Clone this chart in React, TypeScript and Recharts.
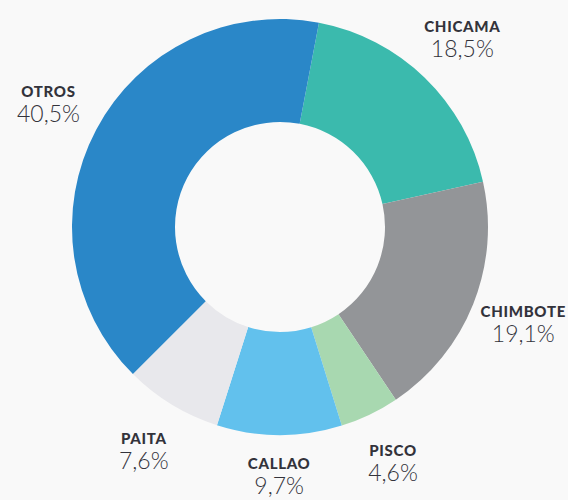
import React from 'react';
import { PieChart, Pie, Cell } from 'recharts';

const puertos = ['CHICAMA', 'CHIMBOTE', 'PISCO', 'CALLAO', 'PAITA', 'OTROS'];
const porcentajes = [18.5, 19.1, 4.6, 9.7, 7.6, 40.5];
const colores = ['#3bbaad', '#939598', '#a8d8b0', '#62c1ed', '#e8e8ec', '#2a87c8'];

const data = puertos.map((name, i) => ({ name, value: porcentajes[i] }));

const RADIAN = Math.PI / 180;

const renderLabel = (props: any) => {
  const { cx, cy, midAngle, name, value } = props;
  const r = 262;
  const x = cx + r * Math.cos(-midAngle * RADIAN);
  // keep bottom labels inside the picture
  const y = Math.min(cy + r * Math.sin(-midAngle * RADIAN), 476);
  return (
    <g>
      <text x={x} y={y - 7} textAnchor="middle" fill="#33333b" fontSize={15} fontWeight={900} style={{ letterSpacing: 0.7 }}>
        {name}
      </text>
      <text x={x} y={y + 18} textAnchor="middle" fill="#33333b" fontSize={23} fontWeight={300}>
        {value.toFixed(1).replace('.', ',')}%
      </text>
    </g>
  );
};

const App = () => {
  return (
    <div style={{ position: 'absolute', left: 0, top: 0, width: 568, height: 500, background: '#f9f9f9', fontFamily: 'Lato, "Open Sans", sans-serif' }}>
      <PieChart width={568} height={500} margin={{ top: 0, right: 0, bottom: 0, left: 0 }}>
        <Pie
          data={data}
          dataKey="value"
          nameKey="name"
          cx={280}
          cy={227}
          innerRadius={105}
          outerRadius={208}
          startAngle={79.2}
          endAngle={-280.8}
          stroke="none"
          label={renderLabel}
          labelLine={false}
          isAnimationActive={false}
        >
          {data.map((d, i) => (
            <Cell key={d.name} fill={colores[i]} />
          ))}
        </Pie>
      </PieChart>
    </div>
  );
};

export default App;
